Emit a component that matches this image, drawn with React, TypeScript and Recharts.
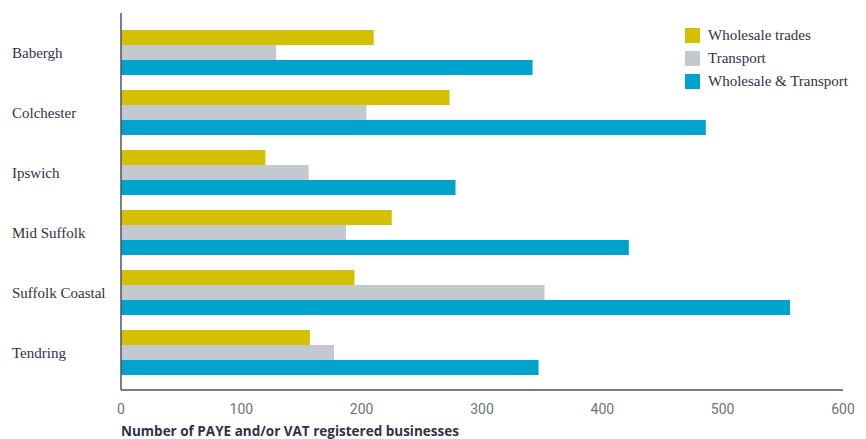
import { BarChart, Bar, XAxis, YAxis } from 'recharts'

const districts = ['Babergh', 'Colchester', 'Ipswich', 'Mid Suffolk', 'Suffolk Coastal', 'Tendring']
const wholesaleTrades = [210, 273, 120, 225, 194, 157]
const transport = [129, 204, 156, 187, 352, 177]
const wholesaleAndTransport = [342, 486, 278, 422, 556, 347]
const xTicks = [0, 100, 200, 300, 400, 500, 600]

const series = [
  { key: 'wholesale', name: 'Wholesale trades', color: '#d4c000' },
  { key: 'transport', name: 'Transport', color: '#c4c9cf' },
  { key: 'both', name: 'Wholesale & Transport', color: '#00a3cb' },
]

const chartData = districts.map((name, i) => ({
  name,
  wholesale: wholesaleTrades[i],
  transport: transport[i],
  both: wholesaleAndTransport[i],
}))

const labelColor = '#2d3347'
const serif = 'Liberation Serif, serif'

function CategoryTick({ y, payload }: any) {
  return (
    <text x={12} y={y} dy={5} textAnchor="start" fill={labelColor} fontSize={15} fontFamily={serif}>
      {payload.value}
    </text>
  )
}

export default function App() {
  return (
    <div style={{ position: 'absolute', left: 0, top: 0, width: 866, height: 439, background: '#fff', overflow: 'hidden' }}>
      <BarChart
        width={866}
        height={439}
        data={chartData}
        layout="vertical"
        margin={{ top: 13, right: 23, bottom: 19, left: 0 }}
        barCategoryGap={7}
        barGap={0}
      >
        <XAxis
          type="number"
          domain={[0, 600]}
          ticks={xTicks}
          tickLine={false}
          axisLine={{ stroke: '#4a5368', strokeWidth: 1.5 }}
          tick={{ fill: '#6b7280', fontSize: 14, fontFamily: 'Liberation Sans Narrow, Roboto, sans-serif' }}
          tickMargin={8}
          height={30}
        />
        <YAxis
          type="category"
          dataKey="name"
          width={121}
          padding={{ top: 10, bottom: 7 }}
          tickLine={false}
          axisLine={{ stroke: '#4a5368', strokeWidth: 1.5 }}
          tick={<CategoryTick />}
        />
        {series.map((s) => (
          <Bar key={s.key} dataKey={s.key} name={s.name} fill={s.color} isAnimationActive={false} />
        ))}
      </BarChart>
      <div style={{ position: 'absolute', left: 685, top: 24, fontFamily: serif, fontSize: 15, color: labelColor }}>
        {series.map((s) => (
          <div key={s.key} style={{ display: 'flex', alignItems: 'center', height: 23 }}>
            <span style={{ width: 15, height: 15, background: s.color, display: 'inline-block', marginRight: 8 }} />
            {s.name}
          </div>
        ))}
      </div>
      <div
        style={{
          position: 'absolute',
          left: 121,
          top: 423,
          lineHeight: '16px',
          fontFamily: 'Open Sans, sans-serif',
          fontWeight: 700,
          fontSize: 13.5,
          color: labelColor,
          whiteSpace: 'nowrap',
        }}
      >
        Number of PAYE and/or VAT registered businesses
      </div>
    </div>
  )
}
